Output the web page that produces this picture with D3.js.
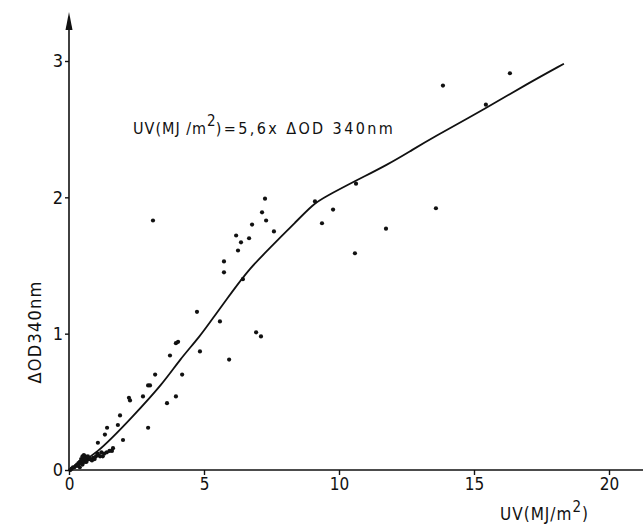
<!DOCTYPE html>
<html>
<head>
<meta charset="utf-8">
<script src="https://cdn.jsdelivr.net/npm/d3@7/dist/d3.min.js"></script>
<style>
  html, body { margin: 0; padding: 0; background: #fff; }
  svg { display: block; }
  text { font-family: "DejaVu Sans Condensed", "DejaVu Sans", sans-serif; fill: #111; }
</style>
</head>
<body>
<svg id="chart" width="643" height="527"></svg>
<script>
// ---- data ----
const xTicks = [0, 5, 10, 15, 20];
const yTicks = [0, 1, 2, 3];

// fitted curve (UV vs ΔOD)
const curveX = [0, 1.0, 2.4, 3.5, 4.1, 4.85, 5.35, 6.05, 6.7, 7.35, 8.45, 9.05, 9.45, 10.7, 11.8, 12.65, 13.4, 15.5, 16.95, 18.33];
const curveY = [0, 0.11, 0.40, 0.64, 0.81, 0.98, 1.12, 1.31, 1.48, 1.61, 1.83, 1.95, 2.00, 2.13, 2.24, 2.34, 2.43, 2.66, 2.83, 2.98];

// measured points
const ptX = [
  0.05, 0.1, 0.15, 0.2, 0.25, 0.3, 0.35, 0.4, 0.45, 0.5, 0.55, 0.6, 0.65, 0.7, 0.5, 0.55, 0.6, 0.75, 0.8, 0.9, 1.0, 1.05, 1.1, 1.2, 1.3, 1.4, 1.5, 1.59, 1.63,
  0.45, 0.5, 0.55, 0.6, 0.65, 0.7, 0.85, 0.95, 1.15, 1.25, 0.35, 0.4,
  1.07, 1.33, 1.41, 1.81, 2.0, 1.89, 2.22, 2.26, 2.74, 2.93, 2.93, 3.0, 3.19, 3.63, 3.74, 3.96, 3.96, 4.04, 4.19, 4.74, 4.85, 3.11,
  5.59, 5.93, 5.74, 5.74, 6.26, 6.37, 6.19, 6.44, 6.67, 6.78, 6.93, 7.11, 7.15, 7.26, 7.30, 7.59,
  9.11, 9.37, 9.78, 10.59, 10.63, 11.74, 13.59, 13.85, 15.44, 16.33
];
const ptY = [
  0.0, 0.01, 0.02, 0.02, 0.03, 0.04, 0.05, 0.06, 0.08, 0.10, 0.11, 0.10, 0.09, 0.08, 0.07, 0.09, 0.06, 0.08, 0.08, 0.09, 0.10, 0.12, 0.11, 0.13, 0.12, 0.13, 0.14, 0.14, 0.16,
  0.05, 0.04, 0.06, 0.08, 0.06, 0.10, 0.07, 0.08, 0.10, 0.10, 0.03, 0.02,
  0.20, 0.26, 0.31, 0.33, 0.22, 0.40, 0.53, 0.51, 0.54, 0.31, 0.62, 0.62, 0.70, 0.49, 0.84, 0.54, 0.93, 0.94, 0.70, 1.16, 0.87, 1.83,
  1.09, 0.81, 1.53, 1.45, 1.61, 1.67, 1.72, 1.40, 1.70, 1.80, 1.01, 0.98, 1.89, 1.99, 1.83, 1.75,
  1.97, 1.81, 1.91, 1.59, 2.10, 1.77, 1.92, 2.82, 2.68, 2.91
];

// ---- chart ----
const svg = d3.select("#chart");
const x = d3.scaleLinear().domain([0, 20]).range([69, 609]);
const y = d3.scaleLinear().domain([0, 3]).range([470, 61]);

// axes lines
svg.append("line").attr("x1", x(0)).attr("x2", 643).attr("y1", y(0)).attr("y2", y(0))
  .attr("stroke", "#111").attr("stroke-width", 1.6);
svg.append("line").attr("x1", x(0)).attr("x2", x(0)).attr("y1", y(0)).attr("y2", 20)
  .attr("stroke", "#111").attr("stroke-width", 1.6);
// arrow head
svg.append("path")
  .attr("d", d3.line()([[x(0) - 3.5, 30], [x(0), 12], [x(0) + 3.5, 30]]) + "Z")
  .attr("fill", "#111");

const xAxis = d3.axisBottom(x).tickValues(xTicks).tickSize(5).tickPadding(3).tickFormat(d3.format("d"));
const gx = svg.append("g").attr("transform", `translate(0,${y(0)})`).call(xAxis);
gx.select(".domain").remove();
gx.selectAll("line").attr("stroke", "#111").attr("stroke-width", 1.4);
gx.selectAll("text").style("font-size", "17px").style("font-family", '"DejaVu Sans Condensed", sans-serif').attr("fill", "#111");

const yAxis = d3.axisLeft(y).tickValues(yTicks).tickSize(4).tickPadding(2).tickFormat(d3.format("d"));
const gy = svg.append("g").attr("transform", `translate(${x(0)},0)`).call(yAxis);
gy.select(".domain").remove();
gy.selectAll("line").attr("stroke", "#111").attr("stroke-width", 1.4);
gy.selectAll("text").style("font-size", "18px").style("font-family", '"DejaVu Sans Condensed", sans-serif').attr("fill", "#111");

// curve
const curveData = curveX.map((v, i) => [v, curveY[i]]);
svg.append("path")
  .datum(curveData)
  .attr("d", d3.line().x(d => x(d[0])).y(d => y(d[1])).curve(d3.curveBasis))
  .attr("fill", "none").attr("stroke", "#111").attr("stroke-width", 1.8);

// points
const pts = ptX.map((v, i) => [v, ptY[i]]);
svg.append("g").selectAll("circle").data(pts).join("circle")
  .attr("cx", d => x(d[0])).attr("cy", d => y(d[1])).attr("r", 2.1).attr("fill", "#111");

// axis titles
const xt = svg.append("text").attr("x", 500).attr("y", 520).style("font-size", "17px").style("letter-spacing", "1px");
xt.append("tspan").text("UV(MJ/m");
xt.append("tspan").attr("dy", -8).style("font-size", "15px").text("2");
xt.append("tspan").attr("dy", 8).text(")");

svg.append("text")
  .attr("transform", `translate(41,332) rotate(-90)`)
  .attr("text-anchor", "middle").style("font-size", "18px").style("letter-spacing", "1.2px")
  .text("ΔOD340nm");

// annotation
const an = svg.append("text").attr("x", 133).attr("y", 134).style("font-size", "16px");
an.append("tspan").style("letter-spacing", "1px").text("UV(MJ /m");
an.append("tspan").attr("dy", -8).style("font-size", "15px").text("2");
an.append("tspan").attr("dy", 8).style("letter-spacing", "2.4px").text(")=5,6x ΔOD 340nm");
</script>
</body>
</html>
